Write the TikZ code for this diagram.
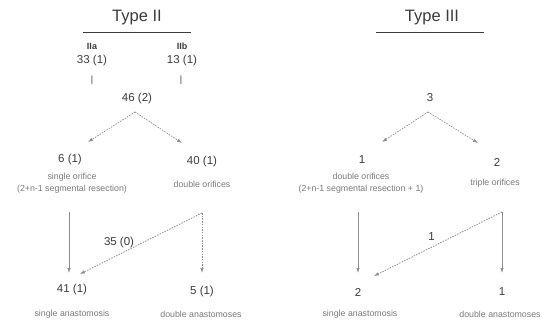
\documentclass[tikz,border=0pt]{standalone}
\usepackage{fontspec}
\setmainfont{Liberation Sans}
\usetikzlibrary{arrows.meta}
\definecolor{ink}{HTML}{3C3C3C}
\definecolor{lite}{HTML}{7A7A7A}
\definecolor{wire}{HTML}{8C8C8C}
\begin{document}
\begin{tikzpicture}[x=1pt,y=-1pt,
  title/.style={font=\fontsize{16.5}{18}\selectfont, text=ink},
  num/.style={font=\fontsize{11.5}{13}\selectfont, text=ink},
  sub/.style={font=\fontsize{9}{10}\selectfont\bfseries, text=ink},
  tick/.style={font=\fontsize{9}{10}\selectfont, text=ink},
  small/.style={font=\fontsize{8.8}{12}\selectfont, text=lite, align=center},
  rule/.style={draw=ink, line width=0.9pt},
  arr/.style={draw=wire, line width=0.7pt, -{Latex[length=5pt,width=3.5pt]}},
  dotarr/.style={arr, dash pattern=on 1.5pt off 1.2pt}]
\path[use as bounding box, fill=white] (0,0) rectangle (542,324);

% ---------------- Type II ----------------
\node[title] (t2) at (137,18) {Type II};
\coordinate (t2l) at (83,32);
\coordinate (t2r) at (191,32);
\draw[rule] (t2l) -- (t2r);

\node[sub] (iia) at (92,46) {IIa};
\node[num] (n33) at (92,61) {33 (1)};
\node[tick] (tka) at (92,80) {|};
\node[sub] (iib) at (182,46) {IIb};
\node[num] (n13) at (182,61) {13 (1)};
\node[tick] (tkb) at (181,80) {|};

\node[num] (n46) at (137,99) {46 (2)};
\coordinate (s46) at (135,112);
\coordinate (e6) at (88,142);
\coordinate (e40) at (182,143);
\draw[dotarr] (s46) -- (e6);
\draw[dotarr] (s46) -- (e40);

\node[num] (n6) at (70,160) {6 (1)};
\node[small] (d6) at (72,183) {single orifice\\(2+n-1 segmental resection)};
\node[num] (n40) at (202,162) {40 (1)};
\node[small] (d40) at (202,184) {double orifices};

\coordinate (a6) at (69,212);
\coordinate (b6) at (69,273);
\coordinate (a40) at (202,213);
\coordinate (b40) at (202,273);
\coordinate (c40) at (80,274);
\draw[arr] (a6) -- (b6);
\draw[dotarr] (a40) -- (b40);
\draw[dotarr] (a40) -- (c40) node[pos=0.68, above=3pt, num] (l35) {35 (0)};

\node[num] (n41) at (72,290) {41 (1)};
\node[small] (d41) at (72,314) {single anastomosis};
\node[num] (n5) at (202,292) {5 (1)};
\node[small] (d5) at (201,314) {double anastomoses};

% ---------------- Type III ----------------
\node[title] (t3) at (432,18) {Type III};
\coordinate (t3l) at (376,32);
\coordinate (t3r) at (484,32);
\draw[rule] (t3l) -- (t3r);

\node[num] (m3) at (430,98) {3};
\coordinate (s3) at (428,112);
\coordinate (e1) at (382,142);
\coordinate (e2) at (478,143);
\draw[dotarr] (s3) -- (e1);
\draw[dotarr] (s3) -- (e2);

\node[num] (m1) at (362,160) {1};
\node[small] (d1) at (361,183) {double orifices\\(2+n-1 segmental resection + 1)};
\node[num] (m2) at (497,162) {2};
\node[small] (d2) at (495,183) {triple orifices};

\coordinate (a1) at (358,212);
\coordinate (b1) at (358,273);
\coordinate (a2) at (502,212);
\coordinate (b2) at (502,273);
\coordinate (c2) at (374,276);
\draw[arr] (a1) -- (b1);
\draw[arr] (a2) -- (b2);
\draw[dotarr] (a2) -- (c2) node[pos=0.55, above=3pt, num] (l1) {1};

\node[num] (m2b) at (358,292) {2};
\node[small] (d2b) at (360,314) {single anastomosis};
\node[num] (m1b) at (502,292) {1};
\node[small] (d1b) at (500,314) {double anastomoses};
\end{tikzpicture}
\end{document}
